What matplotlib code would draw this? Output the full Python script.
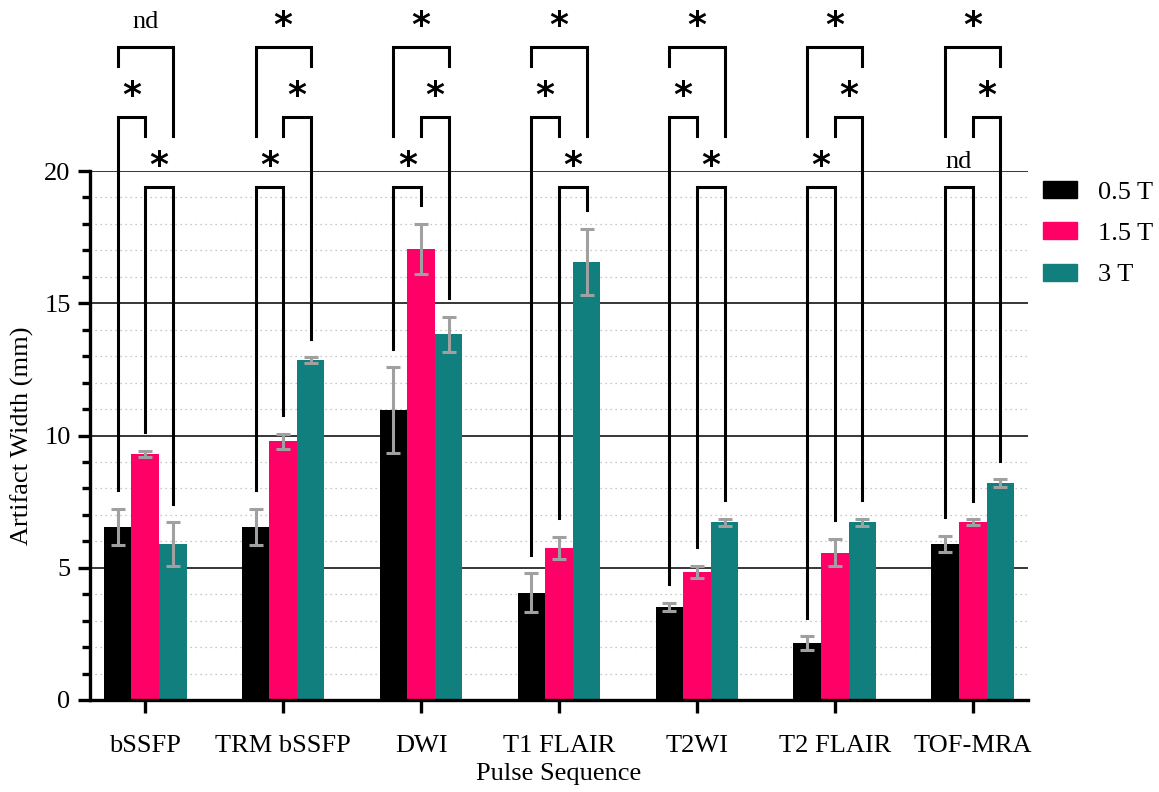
import numpy as np
import matplotlib
matplotlib.use("Agg")
import matplotlib.pyplot as plt
from matplotlib.patches import Patch
from matplotlib.ticker import MultipleLocator

plt.rcParams['font.family'] = 'Liberation Serif'

sequences = ["bSSFP", "TRM bSSFP", "DWI", "T1 FLAIR", "T2WI", "T2 FLAIR", "TOF-MRA"]
fields = ["0.5 T", "1.5 T", "3 T"]

mean_05 = [6.55, 6.55, 10.95, 4.05, 3.52, 2.15, 5.9]
sd_05 = [0.69, 0.69, 1.63, 0.74, 0.15, 0.26, 0.31]
mean_15 = [9.3, 9.78, 17.05, 5.75, 4.85, 5.57, 6.73]
sd_15 = [0.12, 0.29, 0.95, 0.43, 0.23, 0.52, 0.11]
mean_3 = [5.9, 12.85, 13.83, 16.57, 6.72, 6.72, 8.2]
sd_3 = [0.82, 0.1, 0.66, 1.25, 0.14, 0.14, 0.15]

# (bar a, bar b, label) per sequence, lowest bracket first
comparisons = [
    [(1, 2, "*"), (0, 1, "*"), (0, 2, "nd")],
    [(0, 1, "*"), (1, 2, "*"), (0, 2, "*")],
    [(0, 1, "*"), (1, 2, "*"), (0, 2, "*")],
    [(1, 2, "*"), (0, 1, "*"), (0, 2, "*")],
    [(1, 2, "*"), (0, 1, "*"), (0, 2, "*")],
    [(0, 1, "*"), (1, 2, "*"), (0, 2, "*")],
    [(0, 1, "nd"), (1, 2, "*"), (0, 2, "*")],
]
levels = [19.4, 22.05, 24.7]

colors = ["#000000", "#ff0066", "#117f7e"]
means = [mean_05, mean_15, mean_3]
sds = [sd_05, sd_15, sd_3]

fig = plt.figure(figsize=(11.59, 7.92), dpi=100)
ax = fig.add_axes([90/1159, 1-700/792, (1028-90)/1159, (700-171)/792])

x = np.arange(len(sequences))
w = 0.2
offs = [-w, 0, w]
for k in range(3):
    ax.bar(x + offs[k], means[k], width=w, color=colors[k], zorder=2)
    ax.errorbar(x + offs[k], means[k], yerr=sds[k], fmt='none', ecolor='#a0a0a0',
                elinewidth=2.2, capsize=4.7, capthick=2.2, zorder=3)

# significance brackets
for i, comps in enumerate(comparisons):
    for lev, (a, b, lab) in enumerate(comps):
        y = levels[lev]
        bots = []
        for j in (a, b):
            lower = [levels[m] for m in range(lev) if j in comps[m][:2]]
            if lower:
                bots.append(max(lower) + 1.93)
            else:
                bots.append(means[j][i] + sds[j][i] + 0.7)
        xa, xb = i + offs[a], i + offs[b]
        ax.plot([xa, xa, xb, xb], [bots[0], y, y, bots[1]], color='black', lw=2.2,
                solid_joinstyle='miter', clip_on=False, zorder=4)
        if lab == "*":
            ax.text((xa + xb) / 2, y + 0.78, "*", ha='center', va='center',
                    fontsize=26, fontweight='bold', family='DejaVu Sans', clip_on=False)
        else:
            ax.text((xa + xb) / 2, y + 0.95, lab, ha='center', va='center',
                    fontsize=19, clip_on=False)

ax.set_xlim(-0.4, 6.4)
ax.set_ylim(0, 20)
ax.set_xticks(x)
ax.set_xticklabels(sequences)
ax.set_yticks([0, 5, 10, 15, 20])
ax.yaxis.set_minor_locator(MultipleLocator(1))
ax.grid(axis='y', which='major', color='black', lw=1.1, zorder=0)
ax.grid(axis='y', which='minor', color='#b5b5b5', lw=0.9, ls=(0, (1, 3)), zorder=0)
ax.set_axisbelow(True)

for s in ['top', 'right']:
    ax.spines[s].set_visible(False)
for s in ['left', 'bottom']:
    ax.spines[s].set_linewidth(2.4)
ax.tick_params(axis='both', which='major', length=9, width=2.4, labelsize=19, pad=5)
ax.tick_params(axis='y', which='minor', length=6, width=2.4)
ax.tick_params(axis='x', pad=16)

fig.text(22/1159, 1-436/792, "Artifact Width (mm)", rotation=90, ha='center', va='center', fontsize=19)
fig.text(559/1159, 1-774/792, "Pulse Sequence", ha='center', va='center', fontsize=19)

handles = [Patch(color=c) for c in colors]
fig.legend(handles, fields, loc='upper left', bbox_to_anchor=(1043/1159, 1-181/792),
           frameon=False, fontsize=19, borderpad=0, borderaxespad=0,
           handlelength=1.3, handleheight=0.62, handletextpad=0.8, labelspacing=0.7)

fig.savefig("out.png", dpi=100)
